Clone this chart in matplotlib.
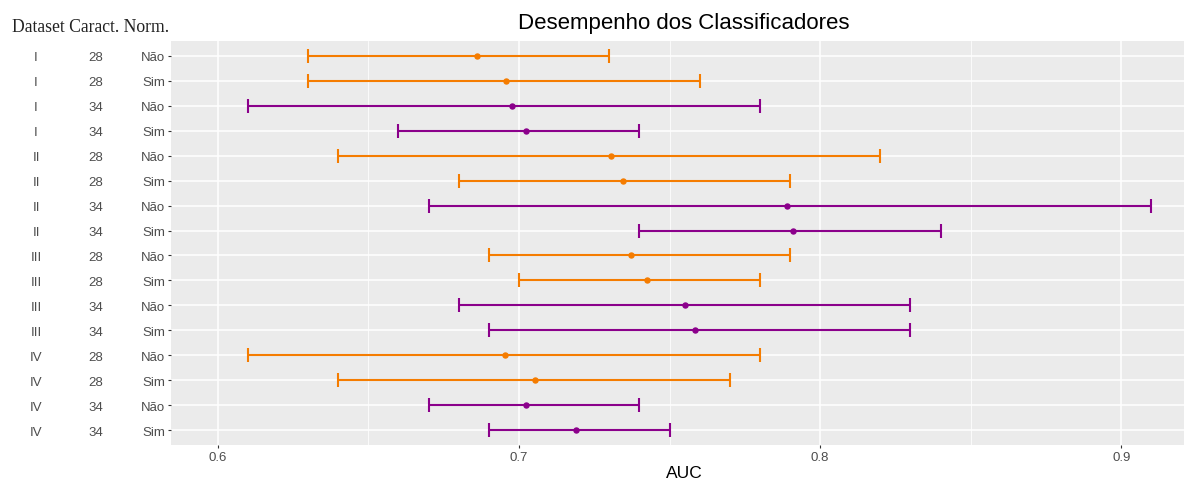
import matplotlib
matplotlib.use('Agg')
import matplotlib.pyplot as plt
from matplotlib import font_manager
from matplotlib.transforms import blended_transform_factory
from matplotlib.ticker import MultipleLocator

# dados
dataset = ['I', 'I', 'I', 'I', 'II', 'II', 'II', 'II',
           'III', 'III', 'III', 'III', 'IV', 'IV', 'IV', 'IV']
caract = ['28', '28', '34', '34'] * 4
norm = ['Não', 'Sim'] * 8
auc_low = [0.63, 0.63, 0.61, 0.66, 0.64, 0.68, 0.67, 0.74,
           0.69, 0.70, 0.68, 0.69, 0.61, 0.64, 0.67, 0.69]
auc_mean = [0.686, 0.6956, 0.6977, 0.7022, 0.7305, 0.7345, 0.789, 0.791,
            0.7372, 0.7425, 0.755, 0.7586, 0.6954, 0.7053, 0.7022, 0.7189]
auc_high = [0.73, 0.76, 0.78, 0.74, 0.82, 0.79, 0.91, 0.84,
            0.79, 0.78, 0.83, 0.83, 0.78, 0.77, 0.74, 0.75]
cores = {'28': '#F57C00', '34': '#8B008B'}

nomes = {f.name for f in font_manager.fontManager.ttflist}
sans = 'Liberation Sans Narrow' if 'Liberation Sans Narrow' in nomes else 'Liberation Sans'

fig = plt.figure(figsize=(11.84, 4.81), dpi=100)
ax = fig.add_axes([171/1184, 1 - 446/481, 1 - 171/1184, (446 - 42)/481])
ax.set_facecolor('#EBEBEB')

n = len(dataset)
ys = list(range(1, n + 1))
for i in range(n):
    c = cores[caract[i]]
    m = auc_mean[i]
    ax.errorbar(m, ys[i], xerr=[[m - auc_low[i]], [auc_high[i] - m]],
                fmt='o', color=c, ecolor=c, elinewidth=1.5, capsize=5,
                capthick=1.5, markersize=3.6, zorder=3)

ax.set_xlim(0.5845, 0.9208)
ax.set_ylim(n + 0.6, 0.4)
ax.xaxis.set_major_locator(MultipleLocator(0.1))
ax.xaxis.set_minor_locator(MultipleLocator(0.05))
ax.grid(which='major', color='white', linewidth=1.1)
ax.grid(which='minor', axis='x', color='white', linewidth=0.55)
ax.set_axisbelow(True)
for s in ax.spines.values():
    s.set_visible(False)

ax.set_yticks(ys)
ax.set_yticklabels(norm)
ax.set_xticks([0.6, 0.7, 0.8, 0.9])
ax.set_xticklabels(['0.6', '0.7', '0.8', '0.9'])
ax.tick_params(which='major', length=2.5, width=0.8, color='#333333',
               labelcolor='#4D4D4D', labelsize=9.5, pad=1.5)
ax.tick_params(which='minor', length=0)
for lb in ax.get_xticklabels() + ax.get_yticklabels():
    lb.set_fontfamily(sans)

# colunas extras das etiquetas
tr = blended_transform_factory(fig.transFigure, ax.transData)
for i in range(n):
    ax.text(36/1184, ys[i], dataset[i], transform=tr, ha='center',
            va='center_baseline', fontsize=9.5, color='#4D4D4D', family=sans)
    ax.text(96/1184, ys[i], caract[i], transform=tr, ha='center',
            va='center_baseline', fontsize=9.5, color='#4D4D4D', family=sans)

fig.text(12/1184, 1 - 32/481, 'Dataset Caract. Norm.', ha='left', va='baseline',
         fontsize=12.7, family='Liberation Serif', color='#222222')
fig.text(684/1184, 1 - 24/481, 'Desempenho dos Classificadores', ha='center',
         va='center', fontsize=16, family=sans, color='black')
fig.text(684/1184, 1 - 474/481, 'AUC', ha='center', va='center',
         fontsize=12.5, family=sans, color='black')

fig.savefig('out.png', dpi=100)
